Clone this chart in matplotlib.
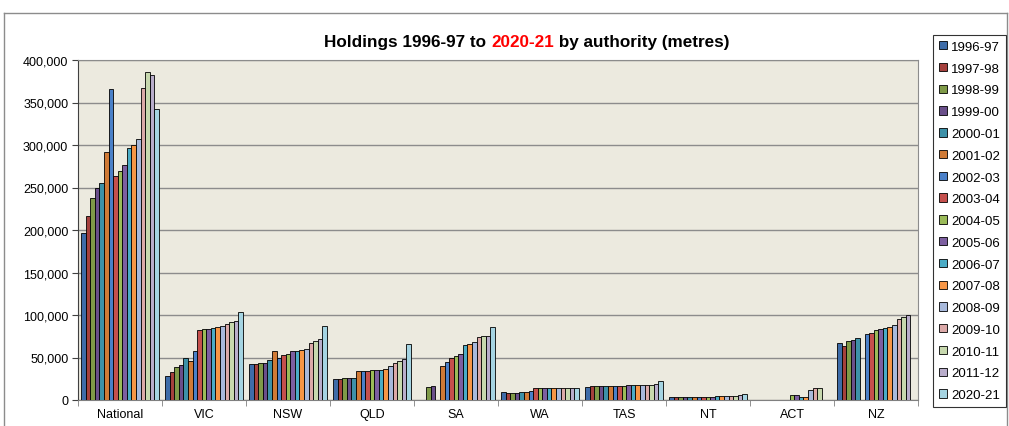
import numpy as np
import matplotlib
matplotlib.use('Agg')
from matplotlib import pyplot as plt
from matplotlib.patches import Patch
from matplotlib.lines import Line2D

plt.rcParams['font.family'] = ['Liberation Sans', 'DejaVu Sans']

authorities = ['National', 'VIC', 'NSW', 'QLD', 'SA', 'WA', 'TAS', 'NT', 'ACT', 'NZ']
years = ['1996-97', '1997-98', '1998-99', '1999-00', '2000-01', '2001-02', '2002-03',
         '2003-04', '2004-05', '2005-06', '2006-07', '2007-08', '2008-09', '2009-10',
         '2010-11', '2011-12', '2020-21']
year_colors = ['#3e6ca8', '#a5403d', '#7f9a48', '#6a4f8a', '#3d91a8', '#d07a36', '#4a80c8',
               '#c5504d', '#9bbb59', '#7d5fa0', '#4bacc6', '#f79646', '#a8b9db', '#dba9a8',
               '#c7d8ae', '#b9adcb', '#a5d4e2']

# holdings in metres, one value per year (None = no figure reported)
national = [197000, 217000, 238000, 249000, 255000, 292000, 365500, 264000, 270000,
            276000, 297000, 300000, 307000, 367000, 386000, 382000, 342000]
vic = [28000, 32500, 38500, 41000, 50000, 45500, 57500, 82000, 83000, 84000, 85000,
       85500, 87500, 89500, 91500, 93300, 103300]
nsw = [42000, 42700, 43100, 43900, 46700, 58000, 49400, 52500, 54100, 57300, 57500,
       58400, 59600, 66700, 69000, 72200, 87500]
qld = [24300, 24300, 25500, 26000, 26300, 33700, 34100, 34500, 34900, 35300, 35700,
       36900, 40000, 43500, 45900, 47800, 66300]
sa = [None, None, 14900, 16100, None, 39600, 44700, 49800, 51400, 53700, 64300,
      65900, 68200, 73700, 74900, 75300, 85900]
wa = [9400, 7900, 8600, 8700, 9000, 9400, 10200, 14600, 14600, 14600, 14600,
      14600, 14600, 14600, 14600, 14600, 14600]
tas = [15700, 15900, 16200, 16500, 16900, 15900, 16200, 16500, 16900, 17200, 17200,
       17400, 17600, 17800, 18000, 18600, 22900]
nt = [3000, 3000, 3000, 3000, 3000, 3100, 3300, 3800, 4000, 4100, 4300, 4500, 4700,
      4900, 5000, 5300, 6500]
act = [None, None, None, None, None, None, None, None, 5500, 5500, 3900, 3100,
       11800, 13700, 13700, None, None]
nz = [66700, 63700, 68900, 70100, 72400, None, 77500, 79000, 81800, 83000, 84500,
      85700, 88800, 95500, 97100, 99800, None]

holdings = [national, vic, nsw, qld, sa, wa, tas, nt, act, nz]


def plot_holdings():
    fig = plt.figure(figsize=(10.09, 4.27), dpi=100)
    ax = fig.add_axes([78 / 1009, 1 - 401 / 427, 840 / 1009, 340 / 427])
    ax.set_facecolor('#eceadf')

    bar_width = 0.925 / len(years)
    for j, (year, color) in enumerate(zip(years, year_colors)):
        xs, hs = [], []
        for i, values in enumerate(holdings):
            if values[j] is not None:
                xs.append(i + (j - (len(years) - 1) / 2) * bar_width)
                hs.append(values[j])
        ax.bar(xs, hs, width=bar_width, color=color, edgecolor='black',
               linewidth=0.6, zorder=3)

    ax.set_xlim(-0.5, len(authorities) - 0.5)
    ax.set_ylim(0, 400000)
    ax.set_yticks(np.arange(0, 400001, 50000))
    ax.set_yticklabels(['{:,}'.format(v) for v in range(0, 400001, 50000)], fontsize=9)
    ax.yaxis.grid(True, color='#8c8c8c', linewidth=1.0, zorder=1)

    ax.set_xticks(range(len(authorities)))
    ax.set_xticklabels(authorities, fontsize=9)
    ax.tick_params(axis='x', which='major', length=0, pad=6)
    ax.set_xticks(np.arange(-0.5, len(authorities), 1.0), minor=True)
    ax.tick_params(axis='x', which='minor', length=4, color='#808080', direction='out')
    ax.tick_params(axis='y', length=4, color='#404040', direction='out', pad=3)

    for side in ('top', 'right'):
        ax.spines[side].set_color('#8c8c8c')
    ax.spines['left'].set_color('#404040')
    ax.spines['bottom'].set_color('#808080')

    # title with the last year in red
    parts = [('Holdings 1996-97 to ', 'black'), ('2020-21', '#ff0000'),
             (' by authority (metres)', 'black')]
    fig.canvas.draw()
    renderer = fig.canvas.get_renderer()
    texts = []
    for s, c in parts:
        texts.append(fig.text(0, 0, s, color=c, fontsize=12.3, fontweight='bold',
                              va='baseline', ha='left'))
    widths = [t.get_window_extent(renderer).width for t in texts]
    x = 527 - sum(widths) / 2
    for t, w in zip(texts, widths):
        t.set_position((x / 1009, 1 - 47 / 427))
        x += w

    handles = [Patch(facecolor=c, edgecolor='black', linewidth=0.6) for c in year_colors]
    leg = fig.legend(handles, years, loc='upper left',
                     bbox_to_anchor=(933 / 1009, 1 - 36 / 427), fontsize=9.5,
                     frameon=True, fancybox=False, edgecolor='black',
                     handlelength=0.6, handleheight=0.6, handletextpad=0.3,
                     labelspacing=0.74, borderpad=0.45, borderaxespad=0)
    leg.get_frame().set_linewidth(0.8)

    # outer chart border
    for xs, ys in [((4, 4), (0, 14)), ((4, 1007), (14, 14)), ((1007, 1007), (14, 0))]:
        fig.add_artist(Line2D([v / 1009 for v in xs], [1 - v / 427 if v else -0.1 for v in ys],
                              color='#8c8c8c', linewidth=1.0))
    return fig


if __name__ == '__main__':
    fig = plot_holdings()
    fig.savefig('out.png', dpi=100)
